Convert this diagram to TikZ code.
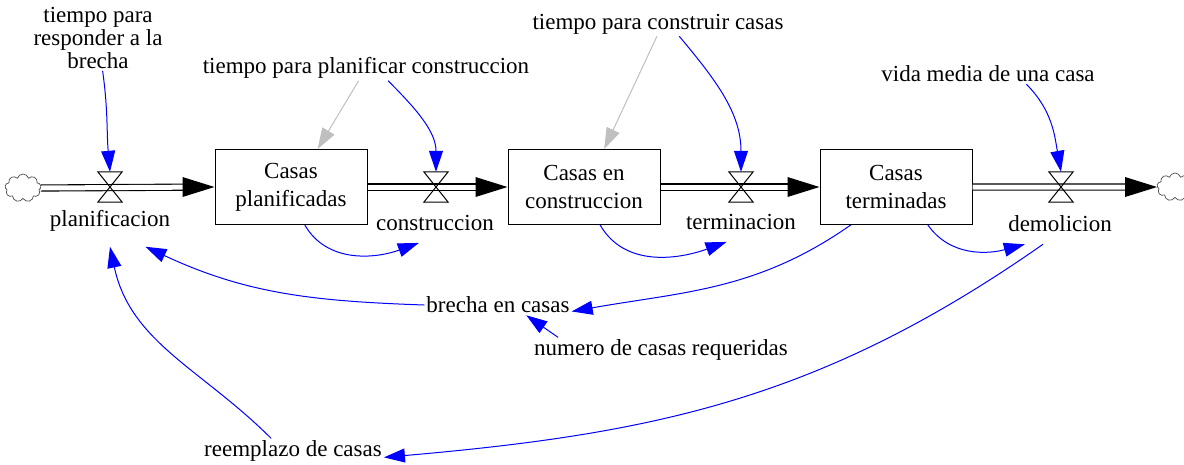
\documentclass[tikz,border=0pt]{standalone}
\usepackage{fontspec}
\setmainfont{Liberation Serif}
\usetikzlibrary{arrows.meta,shapes.symbols}

\begin{document}
\begin{tikzpicture}[x=1pt,y=1pt,>={Triangle[length=21pt,width=14pt]},
	lbl/.style={font=\fontsize{23}{23}\selectfont,align=center,inner sep=2pt},
	flow lbl/.style={lbl,inner ysep=12pt},
	stock/.style={draw,line width=1pt,minimum width=152pt,minimum height=75pt,
		align=center,font=\fontsize{23}{28}\selectfont},
	valve/.style={minimum width=24pt,minimum height=30pt,inner sep=0pt},
	cloudy/.style={cloud,cloud puffs=9,aspect=1.3,draw=black!70,line width=0.7pt,
		minimum width=36pt,minimum height=28pt,inner sep=0pt},
	pipe/.style={double,double distance=5pt,line width=1.1pt,shorten >=28pt},
	link/.style={->,blue,line width=1pt},
	grey link/.style={->,black!25,line width=1pt}]
	
	\useasboundingbox (0,0) rectangle (1184,-464);
	
	% stocks
	\node[stock] (cp) at (291,-187) {Casas\\planificadas};
	\node[stock] (cc) at (584,-187) {Casas en\\construccion};
	\node[stock] (ct) at (896,-187) {Casas\\terminadas};
	
	% clouds and valves
	\node[cloudy] (c1) at (23,-188) {};
	\node[cloudy] (c2) at (1175,-187) {};
	\node[valve] (v1) at (110,-187) {};
	\node[valve] (v2) at (436,-187) {};
	\node[valve] (v3) at (741,-187) {};
	\node[valve] (v4) at (1061,-187) {};
	
	\foreach \a/\b in {c1/cp,cp/cc,cc/ct,ct/c2} {
		\draw[pipe] (\a.east) -- (\b.west);
		\fill (\b.west) -- ++(-32,10) -- ++(0,-20) -- cycle;
	}
	\foreach \v in {v1,v2,v3,v4}
		\draw[line width=1pt] (\v.north west) -- (\v.north east) -- (\v.south west) -- (\v.south east) -- cycle;
	
	% flow names
	\node[flow lbl,inner ysep=15pt] (k1) at (110,-221) {planificacion};
	\node[flow lbl] (k2) at (435,-223) {construccion};
	\node[flow lbl] (k3) at (741,-222) {terminacion};
	\node[flow lbl] (k4) at (1060,-224) {demolicion};
	
	% auxiliaries
	\node[lbl] (a1) at (98,-38) {tiempo para\\responder a la\\brecha};
	\node[lbl] (a2) at (366,-68) {tiempo para planificar construccion};
	\node[lbl] (a3) at (658,-24) {tiempo para construir casas};
	\node[lbl] (a4) at (988,-74) {vida media de una casa};
	\node[lbl] (b) at (498,-305) {brecha en casas};
	\node[lbl] (n) at (661,-350) {numero de casas requeridas};
	\node[lbl] (r) at (293,-451) {reemplazo de casas};
	
	% links
	\draw[link] (a1) to[out=-82,in=95] (v1.north);
	\draw[grey link] (a2.-120) -- (cp.55);
	\draw[link] (a2.-30) to[out=-45,in=90] (v2.north);
	\draw[grey link] (a3.-95) -- (cc.62);
	\draw[link] (a3.-30) to[out=-50,in=90] (v3.north);
	\draw[link] (a4.-15) to[out=-45,in=100] (v4.north);
	\draw[link] (cp.-70) to[out=-60,in=200] (k2.231);
	\draw[link] (cc.-67) to[out=-60,in=200] (k3.-126);
	\draw[link] (ct.-50) to[out=-55,in=195] (k4.210);
	\draw[link] (ct.-140) to[out=-145,in=10] (b.-5);
	\draw[link] (b.west) to[out=178,in=-25] (k1.-36);
	\draw[link] (n.173) -- (b.-20);
	\draw[link] (r.150) to[out=135,in=-78] (k1.south);
	\draw[link] (k4.230) to[out=-145,in=5] (r.-4);
\end{tikzpicture}
\end{document}
